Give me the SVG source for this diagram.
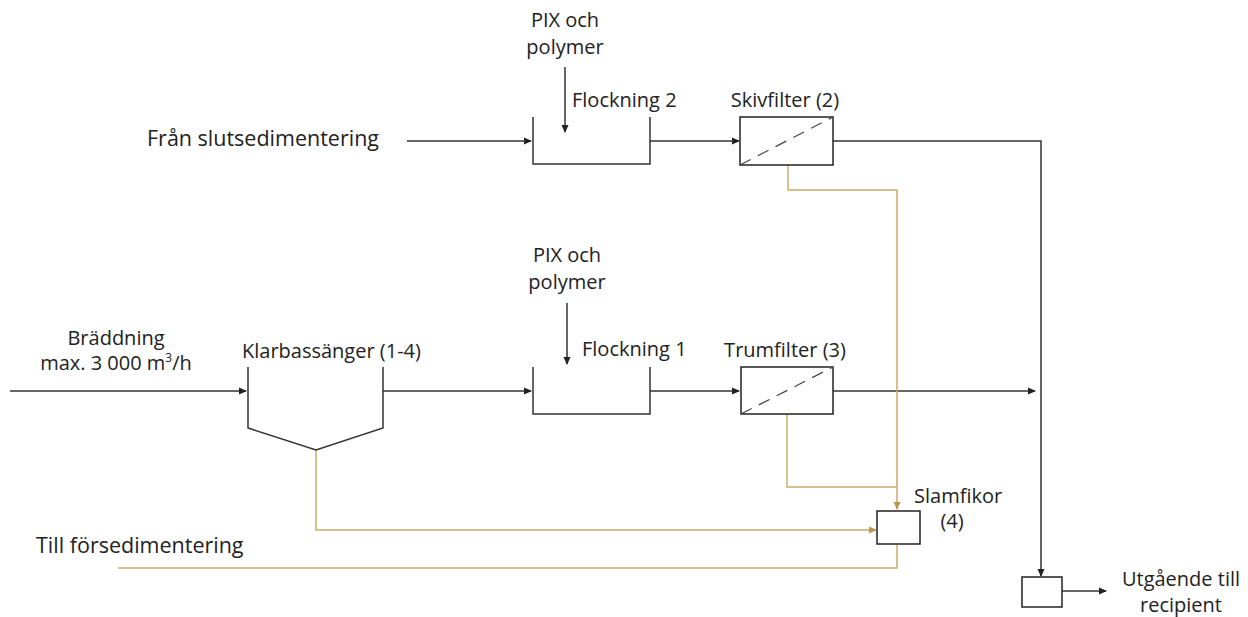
<svg xmlns="http://www.w3.org/2000/svg" width="1248" height="617" viewBox="0 0 1248 617">
<defs>
<marker id="ak" markerWidth="8" markerHeight="8" refX="7" refY="4" orient="auto" markerUnits="userSpaceOnUse"><path d="M0,0.5 L8,4 L0,7.5 z" fill="#222"/></marker>
<marker id="ag" markerWidth="8" markerHeight="8" refX="7" refY="4" orient="auto" markerUnits="userSpaceOnUse"><path d="M0,0.5 L8,4 L0,7.5 z" fill="#b8984a"/></marker>
</defs>
<style>
text{font-family:"Open Sans","Liberation Sans",sans-serif;font-size:20px;fill:#222}
.big{font-size:21.5px}
.k{stroke:#333;stroke-width:1.5;fill:none}
.g{stroke:#c9ad6a;stroke-width:1.5;fill:none}
.b{stroke:#222;stroke-width:1.5;fill:#fff}
.d{stroke:#444;stroke-width:1.2;stroke-dasharray:12,8;fill:none}
</style>
<rect width="1248" height="617" fill="#fff"/>
<g id="connectors">
<path class="k" d="M407,141 H531" marker-end="url(#ak)"/>
<path class="k" d="M565,67 V132" marker-end="url(#ak)"/>
<path class="k" d="M650,141 H739" marker-end="url(#ak)"/>
<path class="k" d="M833,141 H1041 V576" marker-end="url(#ak)"/>
<path class="k" d="M10,391 H246" marker-end="url(#ak)"/>
<path class="k" d="M383,391 H531" marker-end="url(#ak)"/>
<path class="k" d="M567,303 V364" marker-end="url(#ak)"/>
<path class="k" d="M650,391 H739" marker-end="url(#ak)"/>
<path class="k" d="M833,391 H1035" marker-end="url(#ak)"/>
<path class="k" d="M1062,591 H1106" marker-end="url(#ak)"/>
<path class="g" d="M788,165 V190 H897 V509" marker-end="url(#ag)"/>
<path class="g" d="M787,414 V487 H897"/>
<path class="g" d="M316,450 V530 H876" marker-end="url(#ag)"/>
<path class="g" d="M897,545 V568 H118"/>
</g>
<g id="flockning2">
<path class="k" d="M533,117 V164 H650 V117"/>
<text x="565" y="27" text-anchor="middle">PIX och</text>
<text x="565" y="54" text-anchor="middle">polymer</text>
<text x="572" y="107">Flockning 2</text>
</g>
<g id="skivfilter">
<rect class="b" x="740" y="117" width="93" height="48"/>
<path class="d" d="M740,165 L833,117"/>
<text x="785" y="107" text-anchor="middle">Skivfilter (2)</text>
</g>
<g id="source-top">
<text class="big" x="147" y="146">Från slutsedimentering</text>
</g>
<g id="braddning">
<text x="116" y="345" text-anchor="middle">Bräddning</text>
<text x="116" y="370" text-anchor="middle">max. 3 000 m<tspan dy="-8" font-size="12">3</tspan><tspan dy="8">/h</tspan></text>
</g>
<g id="klarbassanger">
<path class="k" d="M248,367 V428 L316,450 L383,428 V367"/>
<text x="242" y="358">Klarbassänger (1-4)</text>
</g>
<g id="flockning1">
<path class="k" d="M533,367 V414 H650 V367"/>
<text x="567" y="262" text-anchor="middle">PIX och</text>
<text x="567" y="289" text-anchor="middle">polymer</text>
<text x="582" y="356">Flockning 1</text>
</g>
<g id="trumfilter">
<rect class="b" x="741" y="367" width="92" height="47"/>
<path class="d" d="M741,414 L833,367"/>
<text x="785" y="357" text-anchor="middle">Trumfilter (3)</text>
</g>
<g id="slamfikor">
<rect class="b" x="877" y="511" width="43" height="33"/>
<text x="914" y="503">Slamfikor</text>
<text x="952" y="528" text-anchor="middle">(4)</text>
</g>
<g id="forsedimentering">
<text class="big" x="36" y="553">Till försedimentering</text>
</g>
<g id="utgaende">
<rect class="b" x="1022" y="577" width="40" height="30"/>
<text x="1181" y="586" text-anchor="middle">Utgående till</text>
<text x="1181" y="612" text-anchor="middle">recipient</text>
</g>
</svg>
